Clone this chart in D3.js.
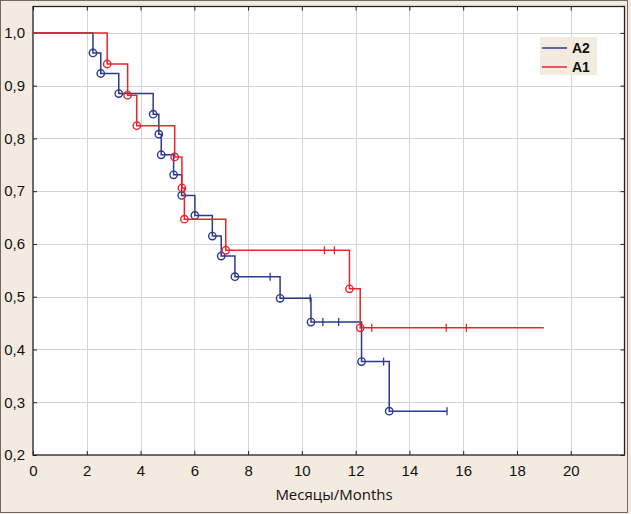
<!DOCTYPE html>
<html>
<head>
<meta charset="utf-8">
<script src="https://cdn.jsdelivr.net/npm/d3@7"></script>
<style>
	body { margin: 0; background: #f4ebe0; }
	svg { display: block; }
</style>
</head>
<body>
<svg id="chart" width="631" height="514"></svg>
<script>
// group A2 (blue): event times and survival after each step
var a2Times = [0, 2.23, 2.52, 3.19, 4.47, 4.68, 4.77, 5.23, 5.53, 6.02, 6.67, 7.0, 7.51, 9.19, 10.34, 12.22, 13.25];
var a2Surv  = [1.0, 0.962, 0.923, 0.885, 0.846, 0.808, 0.769, 0.731, 0.692, 0.654, 0.615, 0.577, 0.538, 0.497, 0.452, 0.377, 0.283];
var a2Censored = [8.82, 10.31, 10.78, 11.37, 13.04, 15.4];
var a2End = 15.4;

// group A1 (red)
var a1Times = [0, 2.76, 3.52, 3.86, 5.27, 5.54, 5.63, 7.17, 11.77, 12.17];
var a1Surv  = [1.0, 0.941, 0.882, 0.824, 0.765, 0.706, 0.647, 0.588, 0.515, 0.441];
var a1Censored = [10.84, 11.21, 12.6, 15.37, 16.12];
var a1End = 19.0;

var xTicks = [0, 2, 4, 6, 8, 10, 12, 14, 16, 18, 20];
var yTicks = [0.2, 0.3, 0.4, 0.5, 0.6, 0.7, 0.8, 0.9, 1.0];
var seriesNames = ["A2", "A1"];
var seriesColors = ["#2b3a8f", "#e8242b"];

var svg = d3.select("#chart");
var pLeft = 33, pRight = 624.5, pTop = 6.5, pBottom = 455;

var x = d3.scaleLinear().domain([0, 22]).range([pLeft, pRight]);
var y = d3.scaleLinear().domain([0.2, 1.05]).range([pBottom, pTop]);

// outer frame
svg.append("rect")
	.attr("x", 0.5).attr("y", 0.5).attr("width", 627).attr("height", 512)
	.attr("fill", "#f4ebe0").attr("stroke", "#6f6a63");

// plot area
svg.append("rect")
	.attr("x", pLeft).attr("y", pTop)
	.attr("width", pRight - pLeft).attr("height", pBottom - pTop)
	.attr("fill", "#fff");

// grid
var grid = svg.append("g").attr("stroke", "#d4d4d4").attr("stroke-width", 1);
grid.selectAll(".gx").data(xTicks.slice(1)).enter().append("line")
	.attr("x1", function(d) { return Math.round(x(d)) + 0.5; })
	.attr("x2", function(d) { return Math.round(x(d)) + 0.5; })
	.attr("y1", pTop).attr("y2", pBottom);
grid.selectAll(".gy").data(yTicks.slice(1)).enter().append("line")
	.attr("y1", function(d) { return Math.round(y(d)) + 0.5; })
	.attr("y2", function(d) { return Math.round(y(d)) + 0.5; })
	.attr("x1", pLeft).attr("x2", pRight);

// axes, ticks pointing inwards
var fmt = function(d) { return d3.format(".1f")(d).replace(".", ","); };
var axB = svg.append("g").attr("transform", "translate(0," + pBottom + ")")
	.call(d3.axisBottom(x).tickValues(xTicks).tickSizeInner(-4).tickSizeOuter(0).tickPadding(10));
var axT = svg.append("g").attr("transform", "translate(0," + pTop + ")")
	.call(d3.axisTop(x).tickValues(xTicks).tickSizeInner(-4).tickSizeOuter(0).tickFormat(""));
var axL = svg.append("g").attr("transform", "translate(" + pLeft + ",0)")
	.call(d3.axisLeft(y).tickValues(yTicks).tickFormat(fmt).tickSizeInner(-4).tickSizeOuter(0).tickPadding(8));
var axR = svg.append("g").attr("transform", "translate(" + pRight + ",0)")
	.call(d3.axisRight(y).tickValues(yTicks).tickSizeInner(-4).tickSizeOuter(0).tickFormat(""));

[axB, axT, axL, axR].forEach(function(a) {
	a.select(".domain").remove();
	a.selectAll(".tick line").attr("stroke", "#222");
	a.selectAll("text").attr("fill", "#111")
		.style("font-family", "'Liberation Sans', Arial, sans-serif").style("font-size", "15px");
});

svg.append("rect")
	.attr("x", pLeft).attr("y", pTop)
	.attr("width", pRight - pLeft).attr("height", pBottom - pTop)
	.attr("fill", "none").attr("stroke", "#222").attr("stroke-width", 1.3);

svg.append("text")
	.attr("x", 334).attr("y", 500)
	.attr("text-anchor", "middle")
	.style("font-family", "'Open Sans', sans-serif").style("font-size", "15px")
	.attr("fill", "#111")
	.text("Месяцы/Months");

// step curves
function survAt(times, surv, t) {
	var i = d3.bisectRight(times, t) - 1;
	return surv[Math.max(0, i)];
}

function drawSeries(times, surv, censored, end, color) {
	var g = svg.append("g");
	var pts = times.map(function(t, i) { return [t, surv[i]]; });
	pts.push([end, surv[surv.length - 1]]);

	var line = d3.line()
		.x(function(d) { return x(d[0]); })
		.y(function(d) { return y(d[1]); })
		.curve(d3.curveStepAfter);

	g.append("path").datum(pts)
		.attr("d", line)
		.attr("fill", "none").attr("stroke", color).attr("stroke-width", 1.5);

	g.selectAll(".cens").data(censored).enter().append("line")
		.attr("x1", function(d) { return x(d); })
		.attr("x2", function(d) { return x(d); })
		.attr("y1", function(d) { return y(survAt(times, surv, d)) - 4; })
		.attr("y2", function(d) { return y(survAt(times, surv, d)) + 4; })
		.attr("stroke", color).attr("stroke-width", 1.3);

	g.selectAll(".ev").data(pts.slice(1, pts.length - 1)).enter().append("circle")
		.attr("cx", function(d) { return x(d[0]); })
		.attr("cy", function(d) { return y(d[1]); })
		.attr("r", 3.7)
		.attr("fill", "none").attr("stroke", color).attr("stroke-width", 1.4);
}

drawSeries(a2Times, a2Surv, a2Censored, a2End, seriesColors[0]);
drawSeries(a1Times, a1Surv, a1Censored, a1End, seriesColors[1]);

// legend
var legend = svg.append("g");
legend.append("rect")
	.attr("x", 540).attr("y", 37).attr("width", 57).attr("height", 38)
	.attr("fill", "#f4ebe0");
seriesNames.forEach(function(name, i) {
	var ly = 48 + i * 19;
	legend.append("line")
		.attr("x1", 542).attr("x2", 567).attr("y1", ly).attr("y2", ly)
		.attr("stroke", seriesColors[i]).attr("stroke-width", 1.5);
	legend.append("text")
		.attr("x", 572).attr("y", ly + 5)
		.style("font-family", "'Liberation Sans', Arial, sans-serif")
		.style("font-size", "14px").style("font-weight", "bold")
		.attr("fill", "#111")
		.text(name);
});
</script>
</body>
</html>
